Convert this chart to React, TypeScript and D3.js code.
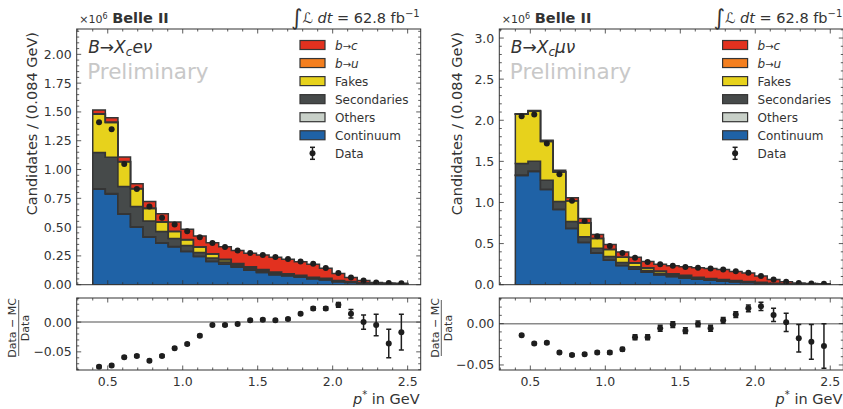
import React from "react";
import * as d3 from "d3";

// ---------- binning ----------
const BIN_START = 0.4;
const BIN_WIDTH = 0.084;
const BIN_COUNT = 25;

// ---------- electron channel (x10^6 candidates) ----------
const eContinuum = [0.83, 0.787, 0.613, 0.5, 0.414, 0.362, 0.33, 0.289, 0.245, 0.202, 0.179, 0.153, 0.127, 0.107, 0.087, 0.078, 0.067, 0.052, 0.043, 0.026, 0.02, 0.012, 0.006, 0.004, 0.002];
const eOthers = [0.004, 0.004, 0.003, 0.003, 0.002, 0.002, 0.002, 0.002, 0.002, 0.001, 0.001, 0.001, 0.001, 0.001, 0.001, 0.001, 0.001, 0.001, 0.001, 0.001, 0.001, 0, 0, 0, 0];
const eSecondaries = [0.313, 0.316, 0.237, 0.176, 0.136, 0.098, 0.07, 0.05, 0.033, 0.028, 0.017, 0.013, 0.013, 0.013, 0.013, 0.009, 0.008, 0.007, 0.006, 0.005, 0.003, 0.003, 0.002, 0.001, 0.001];
const eFakes = [0.333, 0.301, 0.214, 0.154, 0.11, 0.082, 0.06, 0.049, 0.047, 0.035, 0.02, 0.013, 0.012, 0.009, 0.006, 0.004, 0.003, 0.002, 0.002, 0.002, 0.001, 0.001, 0.001, 0.001, 0.001];
const eBtoU = [0.004, 0.004, 0.003, 0.003, 0.003, 0.003, 0.003, 0.003, 0.003, 0.003, 0.003, 0.003, 0.003, 0.003, 0.003, 0.003, 0.003, 0.003, 0.003, 0.002, 0.002, 0.001, 0.001, 0.001, 0.001];
const eBtoC = [0.032, 0.037, 0.039, 0.041, 0.058, 0.068, 0.08, 0.088, 0.092, 0.095, 0.11, 0.115, 0.118, 0.124, 0.129, 0.127, 0.117, 0.113, 0.087, 0.062, 0.035, 0.02, 0.01, 0.0085, 0.007];
const eData = [1.41, 1.35, 1.047, 0.83, 0.679, 0.582, 0.522, 0.464, 0.413, 0.362, 0.328, 0.297, 0.275, 0.258, 0.24, 0.223, 0.202, 0.182, 0.145, 0.101, 0.063, 0.037, 0.02, 0.015, 0.012];
const eRatio = [-0.075, -0.073, -0.059, -0.057, -0.065, -0.057, -0.044, -0.037, -0.023, -0.005, -0.005, -0.003, 0.003, 0.004, 0.003, 0.005, 0.014, 0.023, 0.023, 0.029, 0.014, 0.0, -0.005, -0.036, -0.017];
const eRatioErr = [0.002, 0.002, 0.002, 0.002, 0.002, 0.002, 0.002, 0.002, 0.002, 0.002, 0.002, 0.002, 0.002, 0.002, 0.002, 0.002, 0.002, 0.003, 0.003, 0.004, 0.007, 0.012, 0.018, 0.024, 0.03];

// ---------- muon channel (x10^6 candidates) ----------
const mContinuum = [1.328, 1.377, 1.158, 0.915, 0.684, 0.513, 0.387, 0.298, 0.233, 0.189, 0.152, 0.12, 0.1, 0.083, 0.067, 0.055, 0.045, 0.036, 0.027, 0.018, 0.012, 0.007, 0.004, 0.003, 0.002];
const mOthers = [0.005, 0.005, 0.004, 0.003, 0.003, 0.002, 0.002, 0.002, 0.001, 0.001, 0.001, 0.001, 0.001, 0.001, 0.001, 0.001, 0.001, 0.001, 0.001, 0.001, 0, 0, 0, 0, 0];
const mSecondaries = [0.141, 0.12, 0.109, 0.094, 0.082, 0.067, 0.055, 0.043, 0.036, 0.027, 0.02, 0.019, 0.015, 0.016, 0.011, 0.01, 0.009, 0.008, 0.007, 0.006, 0.005, 0.003, 0.002, 0.001, 0.001];
const mFakes = [0.6, 0.608, 0.471, 0.36, 0.251, 0.17, 0.118, 0.085, 0.065, 0.048, 0.031, 0.024, 0.015, 0.012, 0.009, 0.006, 0.005, 0.004, 0.003, 0.002, 0.001, 0.001, 0.001, 0.001, 0.001];
const mBtoU = [0.002, 0.002, 0.002, 0.002, 0.002, 0.002, 0.002, 0.002, 0.002, 0.002, 0.002, 0.002, 0.002, 0.002, 0.002, 0.002, 0.002, 0.002, 0.002, 0.002, 0.001, 0.001, 0.001, 0.001, 0.001];
const mBtoC = [0.003, 0.008, 0.013, 0.017, 0.037, 0.051, 0.047, 0.059, 0.06, 0.066, 0.075, 0.083, 0.096, 0.103, 0.115, 0.124, 0.122, 0.111, 0.101, 0.076, 0.043, 0.023, 0.014, 0.01, 0.008];
const mData = [2.05, 2.07, 1.718, 1.344, 1.02, 0.776, 0.59, 0.472, 0.385, 0.328, 0.276, 0.248, 0.229, 0.215, 0.205, 0.197, 0.185, 0.164, 0.144, 0.107, 0.063, 0.035, 0.022, 0.016, 0.013];
const mRatio = [-0.014, -0.024, -0.023, -0.035, -0.038, -0.037, -0.035, -0.035, -0.031, -0.0165, -0.0165, -0.0056, -0.0012, -0.0085, -0.0004, -0.0056, 0.004, 0.011, 0.0185, 0.021, 0.0105, 0.0016, -0.0177, -0.022, -0.027];
const mRatioErr = [0.0015, 0.0015, 0.0015, 0.0015, 0.0015, 0.0017, 0.0018, 0.002, 0.002, 0.003, 0.003, 0.0035, 0.0035, 0.0035, 0.0035, 0.0035, 0.0035, 0.0035, 0.004, 0.005, 0.008, 0.011, 0.0165, 0.021, 0.027];

// ---------- axis ticks ----------
const xMajorTicks = [0.5, 1.0, 1.5, 2.0, 2.5];
const eMainMajor = [0, 0.25, 0.5, 0.75, 1.0, 1.25, 1.5, 1.75, 2.0];
const mMainMajor = [0, 0.5, 1.0, 1.5, 2.0, 2.5, 3.0];
const ratioMajor = [-0.05, 0.0];

const KEYS = ["cont", "others", "sec", "fakes", "bu", "bc"];
const COLORS: Record<string, string> = {
  bc: "#e2311f",
  bu: "#f47f1f",
  fakes: "#e7d21c",
  sec: "#464a4a",
  others: "#c8d0c8",
  cont: "#1f62a6",
};
const LEGEND = [
  { key: "bc", label: ["b", "→", "c"], math: true },
  { key: "bu", label: ["b", "→", "u"], math: true },
  { key: "fakes", label: ["Fakes"], math: false },
  { key: "sec", label: ["Secondaries"], math: false },
  { key: "others", label: ["Others"], math: false },
  { key: "cont", label: ["Continuum"], math: false },
];

// ---------- layout ----------
const W = 843;
const H = 409;
const MAIN_TOP = 29;
const MAIN_BOTTOM = 284.7;
const RATIO_TOP = 298;
const RATIO_BOTTOM = 370;
const PANEL_W = 344;
const X_DOMAIN: [number, number] = [0.293, 2.587];
const FONT = "DejaVu Sans";
const TEXT = "#333";
const EDGE = "#353535";

function range(a: number, b: number, step: number) {
  return d3.range(Math.round(a / step), Math.round(b / step) + 1).map((k) => +(k * step).toFixed(6));
}

type PanelProps = {
  left: number;
  lepton: string;
  series: number[][];
  data: number[];
  ratio: number[];
  ratioErr: number[];
  yMax: number;
  yMajor: number[];
  yMinorStep: number;
  yFmt: string;
  ratioDomain: [number, number];
  yLabelX: number;
};

function Panel(p: PanelProps) {
  const L = p.left;
  const R = L + PANEL_W;
  const x = d3.scaleLinear().domain(X_DOMAIN).range([L, R]);
  const y = d3.scaleLinear().domain([0, p.yMax]).range([MAIN_BOTTOM, MAIN_TOP]);
  const yr = d3.scaleLinear().domain(p.ratioDomain).range([RATIO_BOTTOM, RATIO_TOP]);
  const edges = d3.range(BIN_COUNT + 1).map((i) => BIN_START + i * BIN_WIDTH);
  const centers = d3.range(BIN_COUNT).map((i) => BIN_START + (i + 0.5) * BIN_WIDTH);

  const rows = d3.range(BIN_COUNT).map((i) => {
    const r: Record<string, number> = {};
    KEYS.forEach((k, j) => (r[k] = p.series[j][i]));
    return r;
  });
  const stacked = d3.stack<Record<string, number>>().keys(KEYS)(rows);

  const stepPath = (lo: number[], hi: number[]) => {
    let d = `M${x(edges[0])},${y(lo[0])}`;
    for (let i = 0; i < BIN_COUNT; i++) d += `L${x(edges[i])},${y(hi[i])}L${x(edges[i + 1])},${y(hi[i])}`;
    d += `L${x(edges[BIN_COUNT])},${y(lo[BIN_COUNT - 1])}`;
    for (let i = BIN_COUNT - 1; i >= 0; i--) d += `L${x(edges[i + 1])},${y(lo[i])}L${x(edges[i])},${y(lo[i])}`;
    return d + "Z";
  };

  const xMinor = range(0.3, 2.5, 0.1);
  const yMinor = range(0, p.yMax, p.yMinorStep);
  const rMinor = range(Math.ceil(p.ratioDomain[0] * 100) / 100, p.ratioDomain[1], 0.01);
  const fmtY = d3.format(p.yFmt);
  const fmtR = d3.format(".2f");
  const clipMain = `clipMain${Math.round(L)}`;
  const clipRatio = `clipRatio${Math.round(L)}`;

  const xTicks = (top: number, bottom: number) => (
    <g stroke={TEXT} strokeWidth={0.8}>
      {xMinor.map((v) => {
        const major = xMajorTicks.some((m) => Math.abs(m - v) < 1e-6);
        const len = major ? 4.5 : 2.5;
        return (
          <g key={v}>
            <line x1={x(v)} x2={x(v)} y1={bottom} y2={bottom - len} />
            <line x1={x(v)} x2={x(v)} y1={top} y2={top + len} />
          </g>
        );
      })}
    </g>
  );
  const yTicks = (scale: d3.ScaleLinear<number, number>, minor: number[], major: number[]) => (
    <g stroke={TEXT} strokeWidth={0.8}>
      {minor.map((v) => {
        const isMajor = major.some((m) => Math.abs(m - v) < 1e-6);
        const len = isMajor ? 4.5 : 2.5;
        return (
          <g key={v}>
            <line x1={L} x2={L + len} y1={scale(v)} y2={scale(v)} />
            <line x1={R} x2={R - len} y1={scale(v)} y2={scale(v)} />
          </g>
        );
      })}
    </g>
  );

  const legX = L + 223.3;
  const legRow = (i: number) => 45 + i * 18.05;

  return (
    <g fontFamily={FONT}>
      <defs>
        <clipPath id={clipMain}>
          <rect x={L} y={MAIN_TOP} width={PANEL_W} height={MAIN_BOTTOM - MAIN_TOP} />
        </clipPath>
        <clipPath id={clipRatio}>
          <rect x={L} y={RATIO_TOP} width={PANEL_W} height={RATIO_BOTTOM - RATIO_TOP} />
        </clipPath>
      </defs>

      {/* stacked histogram */}
      <g clipPath={`url(#${clipMain})`}>
        {stacked.map((layer) => (
          <path
            key={layer.key}
            d={stepPath(layer.map((s) => s[0]), layer.map((s) => s[1]))}
            fill={COLORS[layer.key]}
            stroke={EDGE}
            strokeWidth={1.5}
            strokeLinejoin="miter"
          />
        ))}
        {p.data.map((v, i) => (
          <circle key={i} cx={x(centers[i])} cy={y(v)} r={3} fill="#1e1e1e" />
        ))}
      </g>

      {/* main frame & ticks */}
      {xTicks(MAIN_TOP, MAIN_BOTTOM)}
      {yTicks(y, yMinor, p.yMajor)}
      <rect x={L} y={MAIN_TOP} width={PANEL_W} height={MAIN_BOTTOM - MAIN_TOP} fill="none" stroke={TEXT} strokeWidth={1} />
      {p.yMajor.map((v) => (
        <text key={v} x={L - 5} y={y(v) + 4.5} fontSize={12.5} textAnchor="end" fill={TEXT}>
          {fmtY(v)}
        </text>
      ))}

      {/* header */}
      <text x={L + 2.5} y={22.5} fontSize={11} fill={TEXT}>
        ×10<tspan dy={-4} fontSize={8}>6</tspan>
      </text>
      <text x={L + 35.5} y={22.5} fontSize={14.5} fontWeight="bold" fill={TEXT}>
        Belle II
      </text>
      <text x={R - 1} y={22.5} fontSize={14.5} textAnchor="end" fill={TEXT}>
        <tspan fontSize={22} dy={2.5}>∫</tspan>
        <tspan dy={-2.5} fontStyle="italic">ℒ</tspan>
        <tspan fontStyle="italic"> dt</tspan>
        <tspan> = 62.8 fb</tspan>
        <tspan dy={-6} fontSize={10}>−1</tspan>
      </text>

      {/* process label */}
      <text x={L + 11.5} y={53} fontSize={17} fill={TEXT}>
        <tspan fontStyle="italic">B</tspan>
        <tspan>→</tspan>
        <tspan fontStyle="italic">X</tspan>
        <tspan fontStyle="italic" fontSize={12} dy={3}>c</tspan>
        <tspan fontStyle="italic" dy={-3}>{p.lepton}ν</tspan>
      </text>
      <text x={L + 10.5} y={79} fontSize={21.5} fill="#c8c8c8">
        Preliminary
      </text>

      {/* legend */}
      {LEGEND.map((e, i) => (
        <g key={e.key}>
          <rect x={legX} y={legRow(i) - 4.5} width={25} height={9} fill={COLORS[e.key]} stroke={EDGE} strokeWidth={1.2} />
          <text x={legX + 35} y={legRow(i) + 4.5} fontSize={12} fill={TEXT}>
            {e.math ? (
              <>
                <tspan fontStyle="italic">{e.label[0]}</tspan>
                <tspan fontSize={10}>{e.label[1]}</tspan>
                <tspan fontStyle="italic">{e.label[2]}</tspan>
              </>
            ) : (
              e.label[0]
            )}
          </text>
        </g>
      ))}
      <g stroke="#1e1e1e" strokeWidth={1.5}>
        <line x1={legX + 12.5} x2={legX + 12.5} y1={legRow(6) - 6} y2={legRow(6) + 6} />
        <line x1={legX + 10} x2={legX + 15} y1={legRow(6) - 6} y2={legRow(6) - 6} />
        <line x1={legX + 10} x2={legX + 15} y1={legRow(6) + 6} y2={legRow(6) + 6} />
      </g>
      <circle cx={legX + 12.5} cy={legRow(6)} r={3} fill="#1e1e1e" />
      <text x={legX + 35} y={legRow(6) + 4.5} fontSize={12} fill={TEXT}>
        Data
      </text>

      {/* y label */}
      <text
        transform={`translate(${p.yLabelX},${MAIN_TOP + 3}) rotate(-90)`}
        fontSize={14.5}
        textAnchor="end"
        fill={TEXT}
      >
        Candidates / (0.084 GeV)
      </text>

      {/* ratio panel */}
      <line x1={L} x2={R} y1={yr(0)} y2={yr(0)} stroke="#8a8a8a" strokeWidth={1.5} />
      <g clipPath={`url(#${clipRatio})`}>
        {p.ratio.map((v, i) => {
          const cx = x(centers[i]);
          const e = p.ratioErr[i];
          return (
            <g key={i} stroke="#1e1e1e" strokeWidth={1.5}>
              <line x1={cx} x2={cx} y1={yr(v - e)} y2={yr(v + e)} />
              <line x1={cx - 2.5} x2={cx + 2.5} y1={yr(v - e)} y2={yr(v - e)} />
              <line x1={cx - 2.5} x2={cx + 2.5} y1={yr(v + e)} y2={yr(v + e)} />
              <circle cx={cx} cy={yr(v)} r={3} fill="#1e1e1e" stroke="none" />
            </g>
          );
        })}
      </g>
      {xTicks(RATIO_TOP, RATIO_BOTTOM)}
      {yTicks(yr, rMinor, ratioMajor)}
      <rect x={L} y={RATIO_TOP} width={PANEL_W} height={RATIO_BOTTOM - RATIO_TOP} fill="none" stroke={TEXT} strokeWidth={1} />
      {ratioMajor.map((v) => (
        <text key={v} x={L - 5} y={yr(v) + 4.5} fontSize={12.5} textAnchor="end" fill={TEXT}>
          {fmtR(v)}
        </text>
      ))}
      {xMajorTicks.map((v) => (
        <text key={v} x={x(v)} y={385.5} fontSize={12.5} textAnchor="middle" fill={TEXT}>
          {d3.format(".1f")(v)}
        </text>
      ))}
      <text x={R - 1} y={404} fontSize={14.5} textAnchor="end" fill={TEXT}>
        <tspan fontStyle="italic">p</tspan>
        <tspan dy={-6} fontSize={10}>*</tspan>
        <tspan dy={6}> in GeV</tspan>
      </text>

      {/* ratio y label as fraction */}
      <g transform={`translate(${L - 58},${RATIO_TOP + 30}) rotate(-90)`} fill={TEXT} fontSize={11}>
        <text x={0} y={-2.5} textAnchor="middle">Data − MC</text>
        <line x1={-28} x2={28} y1={0} y2={0} stroke={TEXT} strokeWidth={0.8} />
        <text x={0} y={10.5} textAnchor="middle">Data</text>
      </g>
    </g>
  );
}

export default function App() {
  return (
    <div style={{ position: "absolute", left: 0, top: 0 }}>
      <svg width={W} height={H} viewBox={`0 0 ${W} ${H}`} style={{ display: "block", background: "#fff" }}>
        <Panel
          left={76.7}
          lepton="e"
          series={[eContinuum, eOthers, eSecondaries, eFakes, eBtoU, eBtoC]}
          data={eData}
          ratio={eRatio}
          ratioErr={eRatioErr}
          yMax={2.22}
          yMajor={eMainMajor}
          yMinorStep={0.05}
          yFmt=".2f"
          ratioDomain={[-0.0805, 0.0405]}
          yLabelX={37}
        />
        <Panel
          left={499.3}
          lepton="μ"
          series={[mContinuum, mOthers, mSecondaries, mFakes, mBtoU, mBtoC]}
          data={mData}
          ratio={mRatio}
          ratioErr={mRatioErr}
          yMax={3.11}
          yMajor={mMainMajor}
          yMinorStep={0.1}
          yFmt=".1f"
          ratioDomain={[-0.0561, 0.031]}
          yLabelX={462}
        />
      </svg>
    </div>
  );
}
